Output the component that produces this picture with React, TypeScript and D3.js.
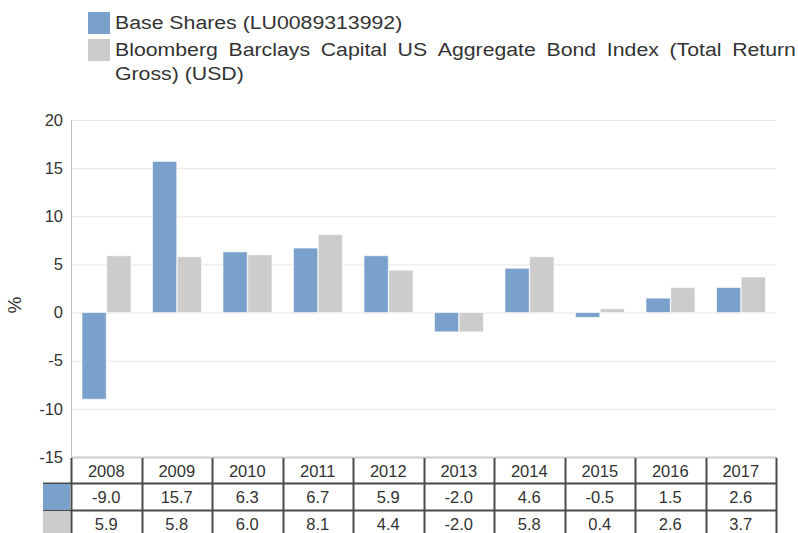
import React, { useEffect, useRef } from 'react';
import * as d3 from 'd3';

const years = ['2008', '2009', '2010', '2011', '2012', '2013', '2014', '2015', '2016', '2017'];
const baseShares = [-9.0, 15.7, 6.3, 6.7, 5.9, -2.0, 4.6, -0.5, 1.5, 2.6];
const bondIndex = [5.9, 5.8, 6.0, 8.1, 4.4, -2.0, 5.8, 0.4, 2.6, 3.7];
const yTicks = [20, 15, 10, 5, 0, -5, -10, -15];
const seriesNames = [
  'Base Shares (LU0089313992)',
  'Bloomberg Barclays Capital US Aggregate Bond Index (Total Return Gross) (USD)',
];
const colors = ['#7aa0cc', '#cccccc'];

export default function App() {
  const svgRef = useRef<SVGSVGElement>(null);

  useEffect(() => {
    if (!svgRef.current) return;
    document.body.style.margin = '0';

    const width = 798;
    const height = 533;
    const font = '"Liberation Sans", Arial, sans-serif';
    const textColor = '#333';

    const svg = d3.select(svgRef.current);
    svg.selectAll('*').remove();
    svg.attr('width', width).attr('height', height).style('font-family', font);

    const left = 71;
    const right = 776;

    const x = d3.scaleBand().domain(years).range([left, right]);
    const inner = d3.scaleBand().domain(['0', '1']).range([0, 49]).paddingInner(0.02);
    const y = d3.scaleLinear().domain([-15, 20]).range([457, 120]);

    // grid
    svg.append('g')
      .selectAll('line')
      .data(yTicks.filter(t => t > -15))
      .enter()
      .append('line')
      .attr('x1', left)
      .attr('x2', right)
      .attr('y1', d => y(d) + 0.5)
      .attr('y2', d => y(d) + 0.5)
      .attr('stroke', '#e6e6e6')
      .attr('stroke-width', 1);

    // y labels
    svg.append('g')
      .selectAll('text')
      .data(yTicks)
      .enter()
      .append('text')
      .attr('x', 63)
      .attr('y', d => y(d))
      .attr('dy', '0.35em')
      .attr('text-anchor', 'end')
      .style('font-size', '16.5px')
      .style('fill', textColor)
      .text(d => d);

    svg.append('text')
      .attr('transform', 'translate(21,305) rotate(-90)')
      .attr('text-anchor', 'middle')
      .style('font-size', '19px')
      .style('fill', textColor)
      .text('%');

    // bars
    const series = [baseShares, bondIndex];
    series.forEach((vals, si) => {
      svg.append('g')
        .selectAll('rect')
        .data(vals)
        .enter()
        .append('rect')
        .attr('x', (d, i) => (x(years[i]) as number) + 11 + (inner(String(si)) as number))
        .attr('width', inner.bandwidth())
        .attr('y', d => y(Math.max(0, d)))
        .attr('height', d => Math.abs(y(d) - y(0)))
        .attr('fill', colors[si])
        .attr('stroke', '#ffffff')
        .attr('stroke-opacity', 0.6)
        .attr('stroke-width', 1);
    });

    // axis line
    svg.append('line')
      .attr('x1', left + 0.5).attr('x2', left + 0.5)
      .attr('y1', 120).attr('y2', 457)
      .attr('stroke', '#bbbbbb');

    // table
    const table = svg.append('g');
    const rowTops = [457, 483, 510];
    const rowH = [26, 27, 27];
    const border = '#4a4a4a';

    table.append('line')
      .attr('x1', left).attr('x2', right + 1)
      .attr('y1', 457.5).attr('y2', 457.5)
      .attr('stroke', '#cccccc').attr('stroke-width', 2);

    [483, 510].forEach(yy => {
      table.append('line')
        .attr('x1', 43).attr('x2', right + 1)
        .attr('y1', yy + 0.5).attr('y2', yy + 0.5)
        .attr('stroke', border).attr('stroke-width', 2);
    });

    const colEdges = years.map(yr => x(yr) as number).concat([right]);
    table.selectAll('line.v')
      .data(colEdges)
      .enter()
      .append('line')
      .attr('x1', d => Math.round(d) + 0.5)
      .attr('x2', d => Math.round(d) + 0.5)
      .attr('y1', 458)
      .attr('y2', 540)
      .attr('stroke', border)
      .attr('stroke-width', 2);

    series.forEach((_, si) => {
      table.append('rect')
        .attr('x', 43)
        .attr('y', rowTops[si + 1] + 1)
        .attr('width', 27)
        .attr('height', rowH[si + 1] - 1)
        .attr('fill', colors[si]);
    });

    table.selectAll('text.h')
      .data(years)
      .enter()
      .append('text')
      .attr('x', d => (x(d) as number) + x.bandwidth() / 2)
      .attr('y', 471)
      .attr('dy', '0.35em')
      .attr('text-anchor', 'middle')
      .style('font-size', '16.5px')
      .style('fill', textColor)
      .text(d => d);

    series.forEach((vals, si) => {
      table.append('g')
        .selectAll('text')
        .data(vals)
        .enter()
        .append('text')
        .attr('x', (d, i) => (x(years[i]) as number) + x.bandwidth() / 2)
        .attr('y', rowTops[si + 1] + 14)
        .attr('dy', '0.35em')
        .attr('text-anchor', 'middle')
        .style('font-size', '16.5px')
        .style('fill', textColor)
        .text(d => d.toFixed(1));
    });

    // legend
    const legend = svg.append('g');
    const legendX = 115;
    const legendRight = 796;
    const fs = '19px';
    const sx = 1.12; // reference font renders wider
    legend.append('rect').attr('x', 88).attr('y', 12).attr('width', 22).attr('height', 22).attr('fill', colors[0]);
    legend.append('rect').attr('x', 88).attr('y', 39).attr('width', 22).attr('height', 22).attr('fill', colors[1]);

    const addText = (str: string, tx: number, ty: number) =>
      legend.append('text')
        .attr('transform', `translate(${tx},${ty}) scale(${sx},1)`)
        .style('font-size', fs)
        .style('fill', textColor)
        .text(str);

    addText(seriesNames[0], legendX, 29);

    // justified first line of the second entry, then the remainder
    const words = seriesNames[1].split(' ');
    const line1 = words.slice(0, 9);
    const line2 = words.slice(9).join(' ');
    const measured = line1.map(w => {
      const t = legend.append('text').style('font-size', fs).text(w);
      const len = (t.node() as SVGTextElement).getComputedTextLength() * sx;
      t.remove();
      return len;
    });
    const total = d3.sum(measured);
    const gap = (legendRight - legendX - total) / (line1.length - 1);
    let cx = legendX;
    line1.forEach((w, i) => {
      addText(w, cx, 56);
      cx += measured[i] + gap;
    });
    addText(line2, legendX, 80);
  }, []);

  return <svg ref={svgRef} style={{ display: 'block' }}></svg>;
}
